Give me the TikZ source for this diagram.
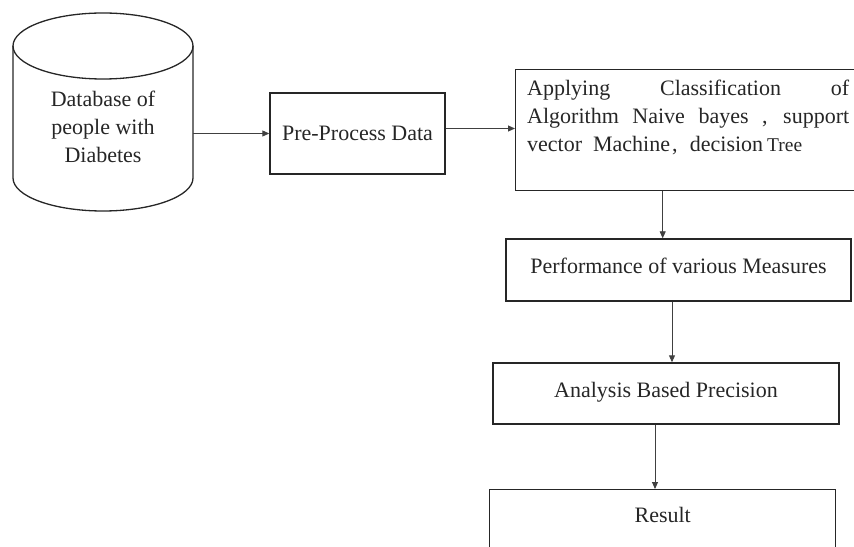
\documentclass[tikz,border=0pt]{standalone}
\usepackage{fontspec}
\setmainfont{Liberation Serif}
\usetikzlibrary{arrows.meta,calc}
\begin{document}
\begin{tikzpicture}[x=1bp,y=-1bp,
  box/.style={draw=black!85, line width=1.4bp, inner sep=0pt},
  arr/.style={draw=black!75, line width=0.9bp, -{Triangle[length=7bp,width=6bp]}},
  lbl/.style={font=\fontsize{22bp}{28bp}\selectfont, text=black!85},
]
\useasboundingbox (0,0) rectangle (854,547);
\clip (0,0) rectangle (854,547);

% database cylinder
\draw[line width=1.3bp, black!85] (13,46) -- (13,178)
  arc[start angle=180, end angle=360, x radius=90bp, y radius=33bp] -- (193,46);
\draw[line width=1.3bp, black!85] (103,46) ellipse [x radius=90bp, y radius=33bp];
\node[minimum width=180bp, minimum height=198bp, inner sep=0pt] (db) at (103,112) {};
\node[lbl, align=center, inner sep=0pt] (dbtext) at (103,127) {Database of\\people with\\Diabetes};

% process boxes
\node[box, lbl, minimum width=175bp, minimum height=81bp] (pre) at (357.5,133.5) {Pre-Process Data};

\node[box, anchor=north west, minimum width=341bp, minimum height=121bp] (app) at (515,69) {};
\node[lbl, anchor=north west, align=left, inner sep=0pt] (apptext) at (527,80)
  {\makebox[322bp][s]{Applying Classification of}\\
   \makebox[322bp][s]{Algorithm Naive bayes , support}\\
   \makebox[275bp][s]{vector Machine\kern2bp, decision\kern4bp{\fontsize{19.5bp}{20bp}\selectfont Tree}}};

\node[box, lbl, minimum width=345bp, minimum height=62bp, text depth=8bp] (perf) at (678.5,270) {Performance of various Measures};
\node[box, lbl, minimum width=346bp, minimum height=61bp, text depth=8bp] (ana) at (666,393.5) {Analysis Based Precision};
\node[box, lbl, anchor=north west, minimum width=346bp, minimum height=80bp, text depth=30bp] (res) at (489,489) {Result};

% connectors
\draw[arr] (db.east |- pre.west) -- (pre.west);
\coordinate (p1) at ($(pre.east)+(0,-5)$);
\draw[arr] (p1) -- (p1 -| app.west);
\coordinate (a1) at ($(app.south)+(-23.5,0)$);
\draw[arr] (a1) -- (a1 |- perf.north);
\coordinate (f1) at ($(perf.south)+(-6.5,0)$);
\draw[arr] (f1) -- (f1 |- ana.north);
\coordinate (n1) at ($(ana.south)+(-11,0)$);
\draw[arr] (n1) -- (n1 |- res.north);
\end{tikzpicture}
\end{document}
